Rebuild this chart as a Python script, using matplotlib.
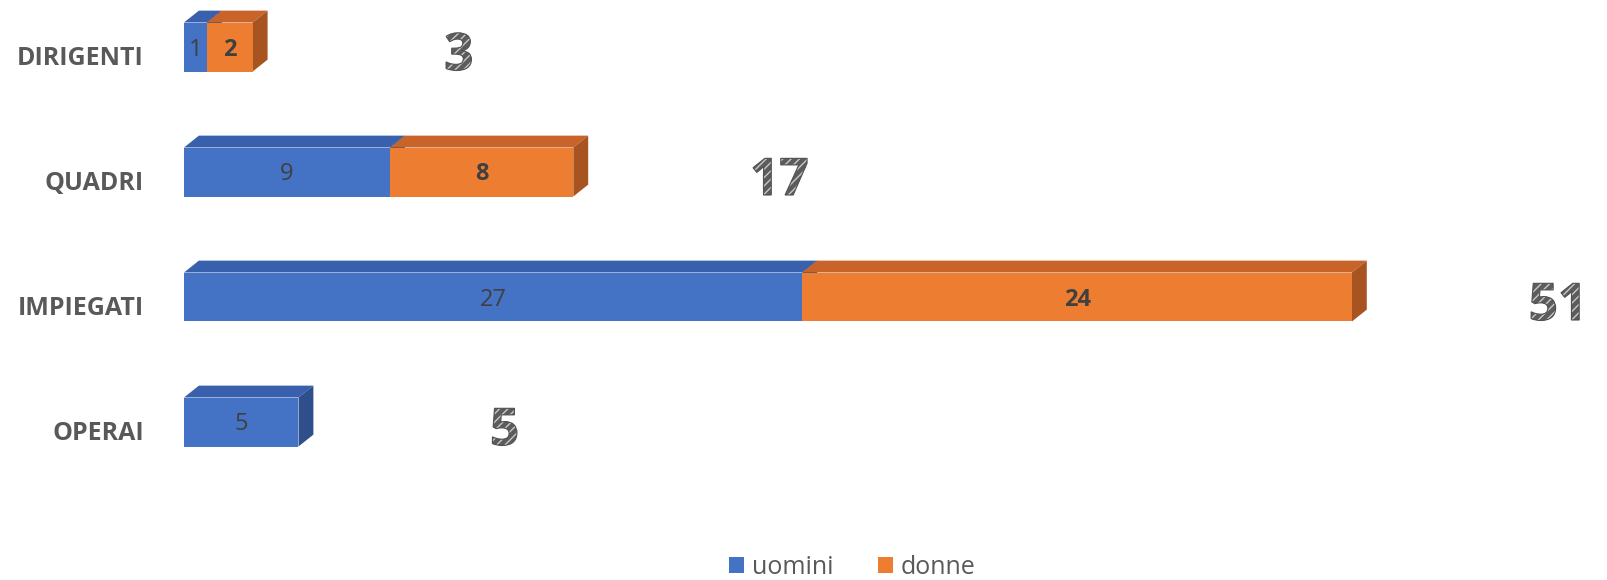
import matplotlib.pyplot as plt
import matplotlib.patheffects as pe
from matplotlib.patches import Polygon, Patch

# dati
categorie = ["DIRIGENTI", "QUADRI", "IMPIEGATI", "OPERAI"]
uomini = [1, 9, 27, 5]
donne = [2, 8, 24, 0]
totali = [u + d for u, d in zip(uomini, donne)]

# colori (front, top, side)
BLU = ("#4472C4", "#3860AC", "#2E4E8C")
ARANCIO = ("#ED7D31", "#C8632A", "#A85420")
GRIGIO = "#595959"

plt.rcParams['font.family'] = ['Open Sans', 'DejaVu Sans']

fig = plt.figure(figsize=(16.08, 5.8), dpi=100)
left = 184 / 1608
ax = fig.add_axes([left, 0, 1 - left, 1])
ax.set_xlim(0, (1608 - 184) / 22.9)
ax.set_ylim((580 - 47) / 125, -47 / 125)
ax.axis('off')

H = 0.392   # altezza barra
DX = 0.65   # profondità in x (unità dati)
DY = 0.095  # profondità in y


def barra3d(x0, w, y, colori):
    front, top, side = colori
    y_top = y - H / 2
    y_bot = y + H / 2
    ax.add_patch(Polygon([(x0, y_top), (x0 + w, y_top), (x0 + w + DX, y_top - DY), (x0 + DX, y_top - DY)],
                         closed=True, facecolor=top, edgecolor='none'))
    ax.add_patch(Polygon([(x0 + w, y_top), (x0 + w + DX, y_top - DY), (x0 + w + DX, y_bot - DY), (x0 + w, y_bot)],
                         closed=True, facecolor=side, edgecolor='none'))
    ax.barh(y, w, left=x0, height=H, color=front, edgecolor='none')


tratteggio = [
    pe.PathPatchEffect(facecolor='#5c5c5c', edgecolor='#c8c8c8', hatch='////', linewidth=0),
    pe.PathPatchEffect(facecolor='none', edgecolor='#505050', linewidth=0.8),
]

for i, cat in enumerate(categorie):
    u, d = uomini[i], donne[i]
    if u:
        barra3d(0, u, i, BLU)
        ax.text(u / 2, i + 0.02, str(u), ha='center', va='center', fontsize=17, color='#404040')
    if d:
        barra3d(u, d, i, ARANCIO)
        ax.text(u + d / 2, i + 0.02, str(d), ha='center', va='center', fontsize=17,
                fontweight='bold', color='#404040')
    ax.text(-40 / 22.9, i + 0.095, cat, ha='right', va='center', fontsize=18,
            fontweight='bold', color=GRIGIO)
    # totale
    ax.text(totali[i] + 9.0, i + 0.08, str(totali[i]), ha='center', va='center',
            fontsize=37, fontweight='bold', color='#5c5c5c', path_effects=tratteggio)

handles = [Patch(facecolor=BLU[0], label='uomini'), Patch(facecolor=ARANCIO[0], label='donne')]
fig.legend(handles=handles, loc='center', bbox_to_anchor=(0.53, 1 - 567 / 580), ncol=2,
           frameon=False, fontsize=18, handlelength=0.6, handleheight=0.6,
           handletextpad=0.3, columnspacing=1.8, labelcolor=GRIGIO)

fig.savefig("out.png", dpi=100)
